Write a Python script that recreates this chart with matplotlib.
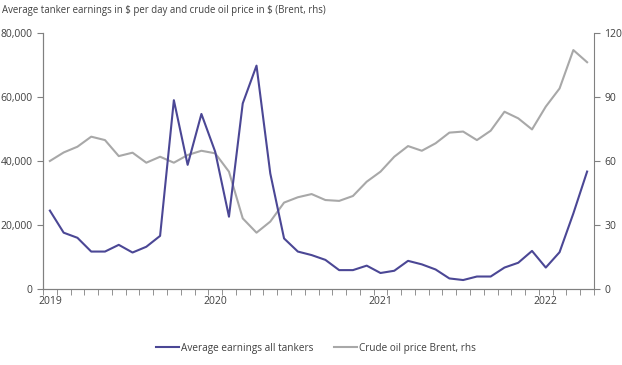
import numpy as np
import matplotlib
matplotlib.use("Agg")
import matplotlib.pyplot as plt

# Monthly data, Jan 2019 - Apr 2022
earnings = [24.5, 17.6, 16.0, 11.7, 11.7, 13.8, 11.4, 13.2, 16.6, 59.0,
            38.8, 54.7, 42.9, 22.6, 58.0, 69.8, 36.1, 15.8, 11.7, 10.6,
            9.1, 5.9, 5.9, 7.3, 5.0, 5.7, 8.8, 7.7, 6.1, 3.3,
            2.8, 3.9, 3.9, 6.7, 8.2, 11.9, 6.7, 11.5, 23.6, 36.7]
earnings = [v * 1000 for v in earnings]
brent = [60.0, 64.0, 66.7, 71.4, 69.8, 62.3, 63.9, 59.2, 62.0, 59.2,
         62.8, 64.8, 63.6, 55.0, 33.1, 26.4, 31.6, 40.5, 43.0, 44.5,
         41.7, 41.3, 43.6, 50.3, 55.0, 62.0, 67.0, 64.8, 68.3, 73.3,
         73.8, 69.8, 74.2, 83.1, 80.0, 74.8, 85.5, 94.0, 112.0, 106.3]
year_labels = ["2019", "2020", "2021", "2022"]
left_ticks = [0, 20000, 40000, 60000, 80000]
right_ticks = [0, 30, 60, 90, 120]

blue = "#4b4795"
grey = "#a8a8a8"
axis_col = "#808080"
text_col = "#404040"

plt.rcParams["font.family"] = ["Open Sans", "DejaVu Sans"]

fig = plt.figure(figsize=(6.22, 3.65), dpi=100)
ax = fig.add_axes([43 / 622, 1 - 289 / 365, (594 - 43) / 622, (289 - 33) / 365])
ax2 = ax.twinx()

x = np.arange(len(earnings))
ax.plot(x, earnings, color=blue, lw=1.5, label="Average earnings all tankers", zorder=3)
ax2.plot(x, brent, color=grey, lw=1.5, label="Crude oil price Brent, rhs")
ax.set_zorder(ax2.get_zorder() + 1)
ax.patch.set_visible(False)

ax.set_xlim(-0.5, len(x) - 0.5)
ax.set_ylim(0, 80000)
ax2.set_ylim(0, 120)

ax.set_yticks(left_ticks)
ax.set_yticklabels([f"{v:,}" for v in left_ticks])
ax2.set_yticks(right_ticks)
ax.set_xticks(np.arange(-0.5, len(x), 1), minor=True)
ax.set_xticks(np.arange(0, len(x), 12))
ax.set_xticklabels(year_labels)
ax.tick_params(axis="x", which="major", length=0, pad=5)
ax.tick_params(axis="x", which="minor", length=4, direction="out", color=axis_col)
ax.tick_params(axis="y", length=4, color=axis_col)
ax2.tick_params(axis="y", length=4, color=axis_col)
for a in (ax, ax2):
    a.tick_params(labelsize=7.5, labelcolor=text_col)
    for s in a.spines.values():
        s.set_color(axis_col)
        s.set_linewidth(0.8)
    a.spines["top"].set_visible(False)
ax.spines["right"].set_visible(False)

fig.text(0.003, 0.97, "Average tanker earnings in \\$ per day and crude oil price in \\$ (Brent, rhs)",
         fontsize=6.9, color=text_col, va="center", ha="left")

h1, l1 = ax.get_legend_handles_labels()
h2, l2 = ax2.get_legend_handles_labels()
fig.legend(h1 + h2, l1 + l2, loc="center", bbox_to_anchor=(0.508, 1 - 348 / 365), ncol=2,
           frameon=False, fontsize=7.2, labelcolor=text_col, handlelength=2.3,
           handletextpad=0.2, columnspacing=2.0)

fig.savefig("out.png", dpi=100)
